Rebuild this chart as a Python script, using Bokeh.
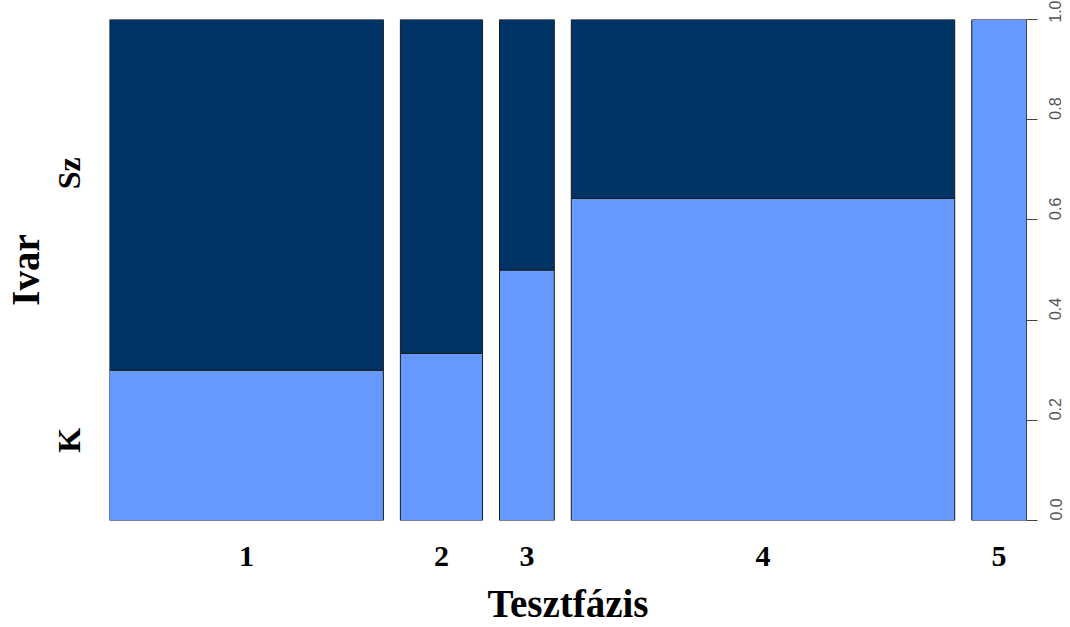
import math
from bokeh.plotting import figure
from bokeh.models import (ColumnDataSource, Range1d, LinearAxis, FixedTicker,
                          NumeralTickFormatter)
from bokeh.embed import file_html
from bokeh.resources import INLINE

# Counts per test phase, split by sex (K / Sz)
phases = ["1", "2", "3", "4", "5"]
k_counts = [3, 1, 1, 9, 2]
sz_counts = [7, 2, 1, 5, 0]
sex_levels = ["K", "Sz"]
prop_ticks = [0.0, 0.2, 0.4, 0.6, 0.8, 1.0]

DARK = "#003366"
LIGHT = "#6699FF"
GAP = 0.02  # spacing between spines, as a share of the total width

totals = [k + s for k, s in zip(k_counts, sz_counts)]
n_total = sum(totals)

# spine geometry: widths proportional to the phase counts
lefts, rights, centers = [], [], []
pos = 0.0
for t in totals:
    w = t / n_total
    lefts.append(pos)
    rights.append(pos + w)
    centers.append(pos + w / 2)
    pos += w + GAP
x_max = rights[-1]

rects = dict(left=[], right=[], bottom=[], top=[], color=[])
for i, (k, s, t) in enumerate(zip(k_counts, sz_counts, totals)):
    k_share = k / t
    rects["left"].append(lefts[i]); rects["right"].append(rights[i])
    rects["bottom"].append(0.0); rects["top"].append(k_share)
    rects["color"].append(LIGHT)
    if s > 0:
        rects["left"].append(lefts[i]); rects["right"].append(rights[i])
        rects["bottom"].append(k_share); rects["top"].append(1.0)
        rects["color"].append(DARK)
src = ColumnDataSource(rects)

p = figure(width=1070, height=627, output_backend="svg", toolbar_location=None,
           x_range=Range1d(0, x_max), y_range=Range1d(0, 1),
           x_axis_location=None, y_axis_location=None,
           min_border_left=108, min_border_right=44,
           min_border_top=19, min_border_bottom=106)
p.outline_line_color = None
p.xgrid.visible = False
p.ygrid.visible = False
p.background_fill_color = "white"
p.border_fill_color = "white"

p.quad(left="left", right="right", bottom="bottom", top="top",
       fill_color="color", line_color="#1a1a1a", line_width=1, source=src)

SERIF = "Liberation Serif"

# left axis: level names placed within the first spine's segments
k_mid = (k_counts[0] / totals[0]) / 2 + 0.035
sz_mid = (1 + k_counts[0] / totals[0]) / 2 + 0.075
left_ax = LinearAxis(ticker=FixedTicker(ticks=[k_mid, sz_mid]),
                     major_label_overrides={k_mid: sex_levels[0], sz_mid: sex_levels[1]},
                     axis_label="Ivar")
left_ax.axis_line_color = None
left_ax.major_tick_line_color = None
left_ax.minor_tick_line_color = None
left_ax.major_tick_out = 0
left_ax.major_tick_in = 0
left_ax.major_label_orientation = math.pi / 2
left_ax.major_label_standoff = 40
left_ax.major_label_text_font = SERIF
left_ax.major_label_text_font_style = "bold"
left_ax.major_label_text_font_size = "32px"
left_ax.major_label_text_color = "black"
left_ax.axis_label_text_font = SERIF
left_ax.axis_label_text_font_style = "bold"
left_ax.axis_label_text_font_size = "39px"
left_ax.axis_label_text_color = "black"
left_ax.axis_label_standoff = -16
p.add_layout(left_ax, "left")

# bottom axis: phase names under each spine
bottom_ax = LinearAxis(ticker=FixedTicker(ticks=centers),
                       major_label_overrides={c: ph for c, ph in zip(centers, phases)},
                       axis_label="Tesztfázis")
bottom_ax.axis_line_color = None
bottom_ax.major_tick_line_color = None
bottom_ax.minor_tick_line_color = None
bottom_ax.major_tick_out = 0
bottom_ax.major_tick_in = 0
bottom_ax.major_label_standoff = 26
bottom_ax.major_label_text_font = SERIF
bottom_ax.major_label_text_font_style = "bold"
bottom_ax.major_label_text_font_size = "30px"
bottom_ax.major_label_text_color = "black"
bottom_ax.axis_label_text_font = SERIF
bottom_ax.axis_label_text_font_style = "bold"
bottom_ax.axis_label_text_font_size = "39px"
bottom_ax.axis_label_text_color = "black"
bottom_ax.axis_label_standoff = 13
p.add_layout(bottom_ax, "below")

# right axis: proportion scale
right_ax = LinearAxis(ticker=FixedTicker(ticks=prop_ticks),
                      formatter=NumeralTickFormatter(format="0.0"))
right_ax.axis_line_color = "#444444"
right_ax.major_tick_line_color = "#444444"
right_ax.minor_tick_line_color = None
right_ax.major_tick_in = 0
right_ax.major_tick_out = 11
right_ax.major_label_orientation = math.pi / 2
right_ax.major_label_standoff = 18
right_ax.major_label_text_line_height = 0.8
right_ax.major_label_text_font = "Liberation Sans"
right_ax.major_label_text_font_size = "16px"
right_ax.major_label_text_color = "#555555"
p.add_layout(right_ax, "right")

open("out.html", "w").write(file_html(p, INLINE))
